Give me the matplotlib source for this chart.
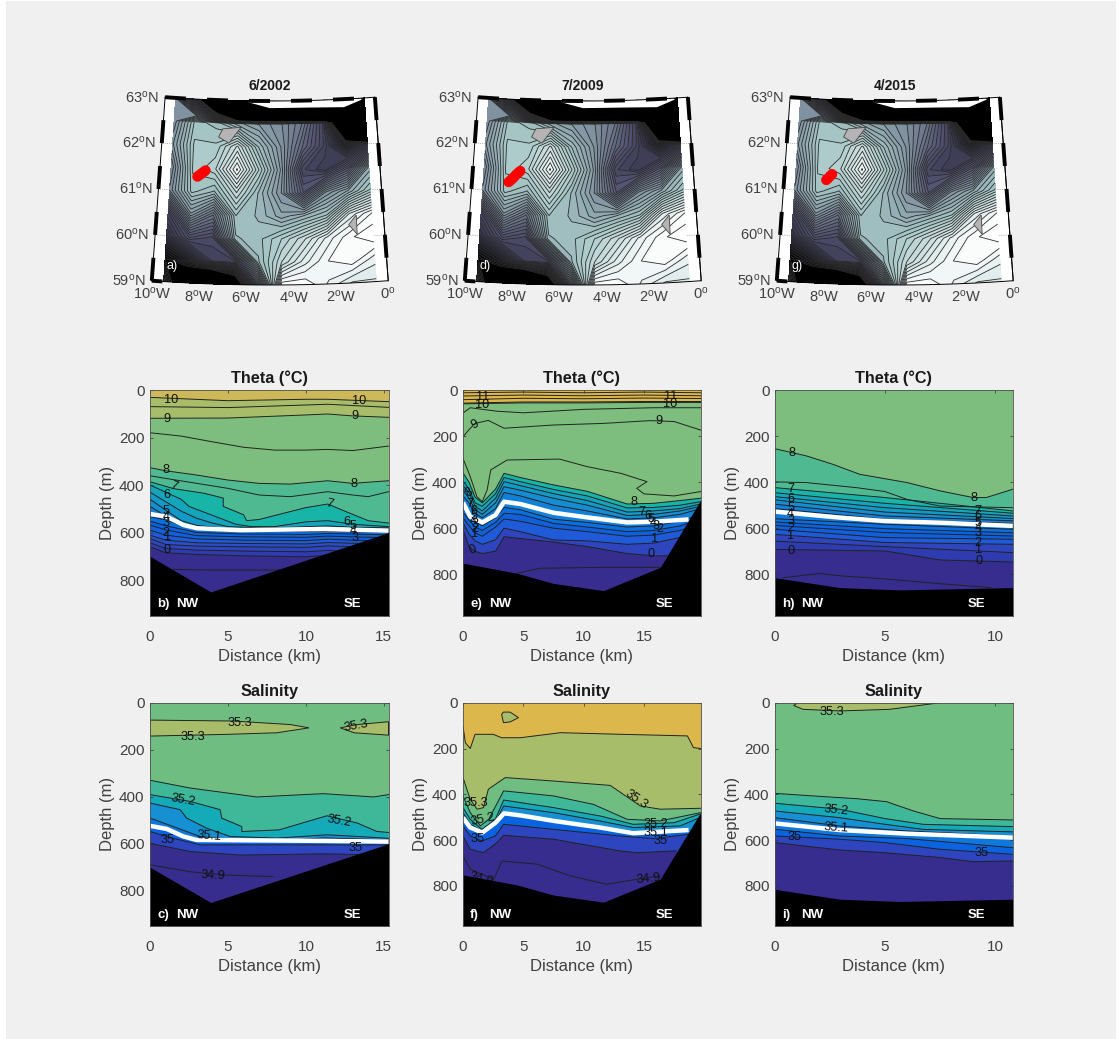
import numpy as np
import matplotlib
matplotlib.use('Agg')
import matplotlib.pyplot as plt
from matplotlib.patches import Rectangle

plt.rcParams['font.family'] = ['Liberation Sans', 'DejaVu Sans']
plt.rcParams['mathtext.fontset'] = 'custom'
plt.rcParams['mathtext.rm'] = 'Liberation Sans'
plt.rcParams['mathtext.default'] = 'regular'

W, H = 1117, 1039
GREY = '#404040'

# ---- map data (relative bathymetry on the coarse grid, black below 0)
grid_lon = [-9.5, -8.5, -7.5, -6.5, -5.5, -4.5, -3.5, -2.5, -1.5, -0.5]
grid_lat = [59, 59.5, 60, 60.5, 61, 61.5, 62, 62.5, 63]
bathy = [
    [0.15, -0.3, -0.5, -0.2, 0.45, 1.02, 1.02, 0.97, 0.92, 0.92],
    [0.00, 0.12, 0.30, 0.32, 0.72, 0.85, 0.94, 1.00, 1.02, 0.96],
    [0.22, 0.38, 0.34, 0.72, 0.74, 0.80, 0.87, 0.96, 1.02, 1.05],
    [0.32, 0.62, 0.50, 0.75, 0.72, 0.66, 0.70, 0.75, 0.93, 1.00],
    [0.58, 0.76, 0.72, 0.85, 0.72, 0.60, 0.40, 0.60, 0.68, 0.78],
    [0.55, 0.78, 0.82, 0.98, 0.80, 0.62, 0.33, 0.28, 0.42, 0.68],
    [0.62, 0.78, 0.78, 0.88, 0.72, 0.60, 0.45, 0.32, 0.12, 0.25],
    [0.58, 0.76, 0.74, 0.66, 0.62, 0.58, 0.50, 0.32, -0.5, -3.0],
    [0.58, 0.15, -1.0, -5.0, -5.0, -5.0, -5.0, -5.0, -5.0, -5.0],
]
faroe_lon = [-7.39, -7.2, -6.36, -6.9]
faroe_lat = [62.2, 62.38, 62.42, 62.07]
shetland_lon = [-1.2, -1.55, -1.2]
shetland_lat = [60.47, 60.27, 60.05]
shoal_lon = [-6, -5, -3, -0.65, -1.5, -3, -5]
shoal_lat = [62.98, 63, 63, 62.98, 62.84, 62.86, 62.86]

map_titles = ['6/2002', '7/2009', '4/2015']
map_letters = ['a)', 'd)', 'g)']
section_lon = [[-8.28, -8.15, -8.05, -7.93], [-8.35, -8.18, -8.02, -7.85], [-8.10, -8.02, -7.93, -7.85]]
section_lat = [[61.32, 61.37, 61.41, 61.46], [61.20, 61.28, 61.37, 61.45], [61.25, 61.29, 61.34, 61.38]]
lat_ticks = [63, 62, 61, 60, 59]
lon_ticks = [-10, -8, -6, -4, -2, 0]

# ---- section limits
xmax_b, xmax_e, xmax_h = 15.3, 19.7, 10.8
y_ticks = [0, 200, 400, 600, 800]

# seabed
bed_b_x = [0, 3.9, 15.3]
bed_b = [700, 850, 600]
bed_e_x = [0, 4.5, 7.5, 11.65, 16.35, 19.7]
bed_e = [752, 796, 840, 871, 770, 478]
bed_h_x = [0, 2.94, 5.67, 10.8]
bed_h = [815, 858, 868, 858]

# white isoline
white_b_x = [0, 1.07, 2.14, 3, 5.8, 11.2, 15.3]
white_b = [522, 533, 568, 582, 590, 585, 592]
white_e_x = [0, 0.6, 1.6, 2.7, 3.4, 4.75, 7.5, 10.3, 13.6, 15.8, 18.7]
white_e = [489, 550, 575, 543, 485, 495, 533, 553, 575, 572, 562]
white_h_x = [0, 2.94, 5, 7.5, 10.8]
white_h = [528, 554, 569, 576, 590]
white_c_x = [0, 1.07, 2.14, 3, 11.2, 15.3]
white_c = [524, 537, 569, 584, 588, 591]
white_f_x = [0, 0.6, 1.6, 2.7, 3.4, 4.75, 7.5, 11.35, 14.1, 18.7]
white_f = [502, 545, 567, 524, 483, 492, 516, 545, 570, 556]
white_i_x = [0, 2.94, 6, 10.8]
white_i = [527, 556, 572, 589]

# ---- theta contours: (level, x, depth)
bx_low = [0, 1, 3, 6, 10, 11.4, 13, 15.3]
theta_b = [
    (10, [0, 5, 10, 11.4, 15.3], [31, 45, 39, 39, 49]),
    (9.5, [0, 5, 11.4, 15.3], [70, 74, 60, 73]),
    (9, [0, 5, 10, 11.4, 13, 15.3], [119, 118, 105, 101, 109, 115]),
    (8.5, [0, 2, 4, 6, 8, 10, 11.4, 13, 15.3], [180, 194, 218, 241, 253, 253, 250, 255, 236]),
    (8, [0, 1, 3, 5, 7, 9, 11.4, 13, 15.3], [327, 340, 358, 379, 393, 396, 382, 393, 382]),
    (7.5, [0, 1, 3, 5, 7, 9, 11.4, 13, 14, 15.3], [361, 372, 393, 414, 442, 449, 428, 442, 449, 428]),
    (7, [0, 1.5, 3.5, 4.7, 4.7, 6, 6.2, 7, 8.5, 10, 11.4, 12.5, 14, 15.3],
     [386, 415, 435, 455, 490, 525, 550, 545, 520, 495, 480, 510, 550, 560]),
    (6.5, [0, 1, 2, 2.5, 3.5, 4.5, 5.5, 6.5, 8, 10, 11.4, 13, 15.3],
     [400, 430, 460, 490, 515, 540, 565, 575, 575, 555, 550, 565, 575]),
    (6, [0, 1, 2, 3, 4, 5, 7, 9, 11.4, 13, 15.3], [430, 470, 510, 540, 560, 575, 580, 578, 572, 578, 580]),
    (5.5, [0, 1, 2, 3, 5, 8, 11.4, 15.3], [460, 505, 550, 570, 583, 585, 582, 585]),
    (5, [0, 1, 2, 3, 5, 8, 11.4, 15.3], [490, 530, 565, 580, 590, 592, 588, 590]),
    (4, bx_low, [533, 547, 590, 594, 596, 594, 597, 600]),
    (3.5, bx_low, [552, 571, 600, 606, 608, 604, 606, 610]),
    (3, bx_low, [568, 589, 613, 618, 620, 615, 618, 622]),
    (2, bx_low, [590, 611, 627, 632, 634, 628, 632, 636]),
    (1.5, bx_low, [611, 632, 643, 646, 648, 642, 645, 650]),
    (1, bx_low, [625, 650, 657, 660, 662, 656, 660, 665]),
    (0.5, bx_low, [643, 667, 674, 678, 681, 675, 680, 685]),
    (0, bx_low, [660, 685, 692, 698, 702, 695, 700, 705]),
    (-0.5, [1.5, 4, 9], [755, 758, 758]),
]
ex = [0, 0.5, 1, 1.6, 2.7, 3.4, 4.75, 7.5, 10.3, 13.6, 15.8, 18, 19.7]
theta_e = [
    (11.5, [0, 5, 10, 15, 19.7], [12, 9, 12, 9, 12]),
    (11, [0, 5, 10, 15, 19.7], [26, 22, 25, 22, 25]),
    (10.5, [0, 5, 10, 15, 19.7], [42, 36, 38, 35, 37]),
    (10, [0, 5, 10, 15, 19.7], [57, 52, 52, 50, 50]),
    (9, [0, 5, 10, 15, 19.7], [60, 56, 56, 54, 54]),
    (8.9, [0, 0.6, 2.8, 5, 10, 15.8, 19.7], [100, 77, 92, 99, 84, 77, 77]),
    (8.9, [0.05, 0.5, 1, 2.1, 3.4, 7.5, 11.65, 15.5, 17.5, 19.7],
     [200, 172, 145, 132, 166, 152, 145, 133, 137, 174]),
    (8.5, [0, 0.6, 1.15, 1.6, 2, 2.3, 3.65, 8, 10.3, 13.1, 15.25, 14.4, 15, 17.5, 19.7],
     [297, 376, 463, 485, 434, 347, 304, 300, 333, 362, 398, 427, 451, 460, 441]),
    (7, ex, [360, 400, 465, 490, 430, 362, 380, 412, 440, 495, 492, 480, 470]),
    (6.5, ex, [395, 430, 490, 505, 450, 380, 398, 432, 460, 512, 510, 500, 485]),
    (6, ex, [415, 445, 505, 525, 470, 398, 415, 450, 480, 530, 525, 515, 495]),
    (5.5, ex, [435, 470, 520, 540, 490, 420, 435, 470, 500, 545, 540, 525, 505]),
    (5, ex, [460, 490, 535, 555, 515, 445, 460, 500, 525, 560, 555, 540, 515]),
    (4, ex, [500, 540, 570, 590, 555, 510, 520, 561, 575, 595, 590, 570, 540]),
    (3, ex, [530, 565, 595, 610, 575, 535, 540, 579, 595, 615, 610, 590, 560]),
    (2, ex, [555, 590, 620, 635, 595, 560, 570, 600, 615, 635, 630, 610, 580]),
    (1, ex, [575, 625, 655, 670, 650, 600, 615, 651, 655, 670, 665, 640, 600]),
    (0, ex, [605, 680, 700, 710, 700, 637, 645, 660, 680, 710, 720, 720, 700]),
    (-0.5, [4.5, 6.4, 11.65, 16.35], [795, 774, 770, 770]),
]
hx = [0, 5, 10.8]
theta_h = [
    (8, [0, 1.42, 2.64, 3.85, 6, 7.5, 9, 9.6, 10.8], [255, 286, 323, 366, 402, 438, 467, 467, 431]),
    (7.5, [0, 1.42, 3.7, 5, 6, 7.5, 10.8], [399, 402, 424, 441, 475, 504, 511]),
    (7, hx, [424, 467, 525]),
    (6.5, hx, [446, 492, 535]),
    (6, hx, [463, 511, 547]),
    (5.5, hx, [477, 530, 558]),
    (5, hx, [496, 547, 568]),
    (4.5, hx, [515, 561, 579]),
    (4, hx, [559, 583, 605]),
    (3.5, hx, [573, 602, 620]),
    (3, hx, [588, 619, 634]),
    (2, hx, [605, 641, 648]),
    (1, hx, [627, 662, 670]),
    (0.5, hx, [656, 680, 706]),
    (0, [0, 5, 7.5, 10.8], [692, 699, 738, 747]),
    (-0.5, [0.36, 2, 3, 5.2, 7.5, 9.8], [815, 797, 807, 822, 841, 858]),
]

# ---- salinity contours
lens_c1_x = [0, 5.35, 9, 10.2, 8.14, 4.71, 0]
lens_c1 = [74, 78, 93, 107, 128, 135, 142]
lens_c2_x = [15.3, 13.3, 12.2, 13.1, 15.3]
lens_c2 = [81, 93, 107, 128, 138]
salt_c = [
    (35.25, [0, 2.57, 6.85, 11.1, 14.35, 15.3], [330, 363, 401, 387, 401, 391]),
    (35.2, [0, 2.57, 4.5, 4.6, 5.89, 5.89, 8.28, 11.35, 13.3, 14.56, 15.3],
     [391, 420, 455, 491, 527, 548, 541, 481, 512, 548, 552]),
    (35.15, [0, 1.93, 2.35, 3.64, 5.14, 8.14, 11.35, 13.3, 15.3], [427, 455, 491, 534, 569, 576, 562, 569, 577]),
    (35.1, [0, 1.5, 3.2, 5.14, 8.99, 11.14, 15.3], [491, 527, 569, 581, 584, 575, 584]),
    (35.05, white_c_x, white_c),
    (35, [0, 1.5, 3.2, 11.14, 15.3], [548, 577, 605, 605, 605]),
    (34.95, [0, 2.57, 5.78, 11.14, 15.3], [598, 633, 648, 643, 648]),
    (34.9, [0, 2.57, 4.71, 7.9], [690, 719, 733, 740]),
]
lens_f_x = [3.2, 3.35, 3.9, 4.6, 3.9, 3.35]
lens_f = [51, 41, 41, 65, 84, 87]
salt_f = [
    (35.35, [0, 0.2, 0.6, 1.0, 2.5, 3.2, 4.75, 8.07, 13.1, 18.6, 19.1, 19.7],
     [102, 175, 200, 138, 138, 153, 153, 131, 138, 145, 196, 200]),
    (35.3, [0, 0.6, 1.17, 1.7, 2.1, 3.5, 7.5, 12.2, 14.7, 16.35, 19.7],
     [327, 422, 465, 458, 378, 327, 342, 361, 451, 465, 461]),
    (35.25, [0, 0.6, 1.44, 2.13, 3.37, 7.5, 10.8, 13.6, 16.35, 19.7],
     [407, 480, 538, 509, 385, 407, 444, 509, 516, 480]),
    (35.2, [0, 0.6, 1.57, 2.68, 3.37, 7.5, 11.4, 14.1, 17.5, 19.6],
     [458, 509, 553, 509, 425, 458, 495, 531, 524, 487]),
    (35.15, [0, 0.6, 1.6, 2.7, 3.37, 7.5, 11.4, 14.1, 18, 19.7],
     [480, 530, 560, 520, 451, 480, 517, 545, 538, 500]),
    (35.05, white_f_x, white_f),
    (35, [0, 0.6, 1.57, 2.68, 3.37, 7.5, 13, 15.8, 18.7], [538, 582, 604, 582, 531, 553, 582, 593, 575]),
    (34.95, [0, 0.6, 1.7, 2.8, 3.37, 7.5, 13, 14.4, 17.7], [582, 640, 655, 611, 579, 596, 647, 655, 647]),
    (34.9, [0, 0.6, 2.54, 3.23, 6.14, 8.9, 11.9, 14.4, 16.35], [669, 727, 771, 691, 705, 756, 793, 771, 756]),
]
lens_i_x = [1.04, 0.85, 1.27, 2.94, 5.2, 7.5]
lens_i = [0, 12, 29, 36, 29, 0]
salt_i = [
    (35.25, [0, 2.2, 3.7, 5.06, 6.3, 7.5, 10.8], [396, 410, 419, 432, 473, 506, 512]),
    (35.2, [0, 2.94, 5, 6.73, 10.8], [439, 465, 506, 531, 541]),
    (35.15, [0, 2.94, 5, 6.73, 10.8], [473, 502, 531, 553, 564]),
    (35.1, [0, 2.94, 5.97, 10.8], [502, 538, 560, 582]),
    (35.05, [0, 2.94, 5.97, 10.8], [553, 582, 593, 633]),
    (35, [0, 2.94, 5, 7.5, 10.8], [582, 596, 611, 640, 662]),
    (34.95, [0, 2.94, 5, 7.5, 9, 10.8], [611, 643, 655, 676, 694, 691]),
]

# ---- inline labels: (text, x, depth, rotation)
labels_b = [('10', 1.33, 42, 0), ('10', 13.4, 48, 0), ('9', 1.07, 121, 0), ('9', 13.15, 109, 0),
            ('8', 1.05, 337, 0), ('8', 13.08, 396, 0), ('7', 1.5, 404, -20), ('7', 11.5, 481, -15),
            ('6', 1.11, 442, 0), ('6', 12.63, 554, 0), ('5', 1.05, 508, 0), ('4', 1.03, 536, 0),
            ('3', 1.03, 561, 0), ('2', 1.03, 603, 0), ('1', 1.11, 620, 0), ('0', 1.07, 674, 0),
            ('5', 13.02, 571, 0), ('4', 13.06, 592, 0), ('3', 13.13, 625, 0)]
labels_e = [('11', 1.63, 29, 0), ('11', 17.2, 26, 0), ('10', 1.57, 65, 0), ('10', 17.2, 62, 0),
            ('9', 1.02, 152, 30), ('9', 16.2, 135, 0), ('8', 0.47, 446, 30), ('8', 14.2, 485, 0),
            ('7', 14.83, 530, 0), ('6', 15.33, 547, 0), ('5', 15.58, 561, 0), ('4', 15.8, 576, 0),
            ('3', 15.99, 590, 0), ('2', 16.3, 605, 0), ('1', 15.9, 648, 0), ('0', 15.58, 713, 0),
            ('7', 0.61, 496, 0), ('6', 0.88, 525, 0), ('5', 0.88, 547, 0), ('4', 0.88, 569, 0),
            ('3', 1.02, 583, 0), ('2', 1.02, 605, 0), ('1', 0.97, 627, 0), ('0', 0.8, 695, 20)]
labels_h = [('8', 0.79, 272, 0), ('8', 9.03, 470, 0), ('7', 0.71, 428, 0), ('6', 0.71, 472, 0),
            ('5', 0.71, 511, 0), ('4', 0.71, 540, 0), ('3', 0.71, 569, 0), ('2', 0.71, 598, 0),
            ('1', 0.71, 634, 0), ('0', 0.74, 699, 0), ('7', 9.2, 525, 0), ('6', 9.24, 547, 0),
            ('5', 9.24, 576, 0), ('4', 9.24, 598, 0), ('3', 9.24, 619, 0), ('2', 9.24, 663, 0),
            ('1', 9.24, 695, 0), ('0', 9.26, 742, 0)]
labels_c = [('35.3', 5.74, 85, 0), ('35.3', 2.74, 145, 0), ('35.3', 13.2, 100, 10), ('35.2', 2.14, 416, -10),
            ('35.2', 12.16, 505, -10), ('35.1', 3.81, 569, -5), ('35', 1.11, 584, 0), ('35', 13.2, 619, 0),
            ('34.9', 4.03, 736, -3)]
labels_f = [('35.3', 1.1, 439, 0), ('35.3', 14.4, 422, -35), ('35.2', 1.66, 509, 12), ('35.2', 16, 528, 0),
            ('35.1', 16, 567, 0), ('35', 1.24, 596, 0), ('35', 16.4, 604, 0), ('34.9', 1.5, 771, -15),
            ('34.9', 15.4, 771, 5)]
labels_i = [('35.3', 2.6, 39, 0), ('35.2', 2.79, 470, -6), ('35.1', 2.76, 545, -4), ('35', 0.89, 585, 0),
            ('35', 9.39, 655, 0)]

# band colour below each contour
theta_levels = [11.5, 11, 10.5, 10, 9.5, 9, 8.9, 8.5, 8, 7.5, 7, 6.5, 6, 5.5, 5, 4.5, 4, 3.5, 3, 2, 1.5, 1, 0.5, 0, -0.5]
theta_colors = ['#dcb84c', '#dcb84c', '#dcb84c', '#a8bd6a', '#a8bd6a', '#7dbd7d', '#7dbd7d', '#7dbd7d', '#4fba91',
                '#4fba91', '#18b4a8', '#14a5bb', '#129ac6', '#158dd0', '#1380d8', '#127ada', '#0a70e2', '#0a63e0',
                '#1060dc', '#1f5bd8', '#2a50c8', '#2f45bd', '#2f3cb0', '#362d8e', '#362d8e']
salt_levels = [35.35, 35.3, 35.25, 35.2, 35.15, 35.1, 35.05, 35, 34.95, 34.9]
salt_colors = ['#a8bd6a', '#6fbd80', '#3fb89a', '#14aab8', '#1690d2', '#0f78dc', '#0a63e0', '#2d46bf', '#362d8e', '#362d8e']
theta_fill = dict(zip(theta_levels, theta_colors))
salt_fill = dict(zip(salt_levels, salt_colors))
lens_fill = '#a8bd6a'


def box(left, top, right, bottom):
    return [left / W, 1 - bottom / H, (right - left) / W, (bottom - top) / H]


# conic projection, result is in figure pixels of the first column
def project(lon, lat):
    lon = np.asarray(lon, dtype=float)
    lat = np.asarray(lat, dtype=float)
    r = 1632 - (lat - 59) * 46
    th = (lon + 5) * 0.0145
    return 270 + r * np.sin(th), -1347 + r * np.cos(th)


def draw_map(i, shift):
    ax = fig.add_axes(box(110 + shift, 85, 410 + shift, 310))
    ax.set_xlim(110, 410)
    ax.set_ylim(310, 85)
    ax.axis('off')

    lon_s = np.linspace(-10, 0, 41)
    lat_s = np.linspace(59, 63, 17)
    fx, fy = project(np.r_[lon_s, lon_s[::-1]], np.r_[59 * np.ones(41), 63 * np.ones(41)])
    ax.fill(fx, fy, color='white', zorder=0)

    # dotted graticule
    for la in [60, 61, 62]:
        gx, gy = project(lon_s, la * np.ones(41))
        ax.plot(gx, gy, color='#777777', lw=0.5, ls=':', zorder=0.5)
    for lo in [-8, -6, -4, -2]:
        gx, gy = project(lo * np.ones(17), lat_s)
        ax.plot(gx, gy, color='#777777', lw=0.5, ls=':', zorder=0.5)

    LON, LAT = np.meshgrid(grid_lon, grid_lat)
    X, Y = project(LON, LAT)
    levels = np.arange(0, 1.1, 0.025)
    cmap = plt.get_cmap('bone').copy()
    cmap.set_under('black')
    ax.contourf(X, Y, bathy, levels=levels, cmap=cmap, vmin=0, vmax=1.03, extend='both', zorder=1)
    ax.contour(X, Y, bathy, levels=levels, colors='#2a2a2a', linewidths=0.6, zorder=2)

    # grey islands and the white shoal at the top
    px, py = project(faroe_lon, faroe_lat)
    ax.fill(px, py, facecolor='#b4b4b4', edgecolor='#444444', lw=0.6, zorder=3)
    px, py = project(shetland_lon, shetland_lat)
    ax.fill(px, py, facecolor='#b4b4b4', edgecolor='#444444', lw=0.6, zorder=3)
    px, py = project(shoal_lon, shoal_lat)
    ax.fill(px, py, color='white', zorder=3)

    # black and white frame
    ax.plot(fx, fy, color='black', lw=0.7, zorder=4)
    ex0, ey0 = project(-10 * np.ones(17), lat_s)
    ax.plot([ex0[0], ex0[-1]], [ey0[0], ey0[-1]], color='black', lw=0.7, zorder=4)
    ex1, ey1 = project(0 * np.ones(17), lat_s)
    ax.plot([ex1[0], ex1[-1]], [ey1[0], ey1[-1]], color='black', lw=0.7, zorder=4)
    for la in [59, 60, 61, 62]:
        sx, sy = project([-10, -10], [la, la + 0.5])
        ax.plot(sx, sy, color='black', lw=2.8, solid_capstyle='butt', zorder=5)
    for la in [59.5, 60.5, 61.5, 62.5]:
        sx, sy = project([0, 0], [la, la + 0.5])
        ax.plot(sx, sy, color='black', lw=2.8, solid_capstyle='butt', zorder=5)
    for lo in [-10, -8, -6, -4, -2]:
        sx, sy = project(np.linspace(lo, lo + 1, 5), 63 * np.ones(5))
        ax.plot(sx, sy, color='black', lw=2.8, solid_capstyle='butt', zorder=5)
    sx, sy = project(np.linspace(-10, -9.55, 3), 59 * np.ones(3))
    ax.plot(sx, sy, color='black', lw=2.8, solid_capstyle='butt', zorder=5)

    # hydrographic section
    px, py = project(section_lon[i], section_lat[i])
    ax.plot(px, py, color='red', lw=7.5, solid_capstyle='round', zorder=6)

    # tick labels
    for la in lat_ticks:
        tx, ty = project(-10, la)
        ax.text(tx - 6, ty, str(la) + '$^{o}$N', ha='right', va='center', fontsize=10.5, color=GREY, clip_on=False)
    for lo in lon_ticks:
        tx, ty = project(lo, 59)
        txt = str(abs(lo)) + '$^{o}$W' if lo != 0 else '0$^{o}$'
        ax.text(tx, ty + 13, txt, ha='center', va='center', fontsize=10.5, color=GREY, clip_on=False)
    ax.text(172, 266, map_letters[i], color='white', fontsize=9, ha='center', va='center', zorder=6)
    ax.text(269.5, 86, map_titles[i], fontsize=10, fontweight='bold', color='#1a1a1a', ha='center', va='center')


def draw_section(pos, xmax, ymax, fill, bg, contours, lenses, white_x, white_y, bed_x, bed_y, labels, letter, title):
    ax = fig.add_axes(box(*pos))
    ax.set_facecolor(bg)
    ax.set_xlim(0, xmax)
    ax.set_ylim(ymax, 0)
    for lx, ly in lenses:
        ax.fill(lx, ly, facecolor=lens_fill, edgecolor='#222222', lw=0.7, zorder=3.5)
    for level, x, d in contours:
        # painter's order: each band covers everything below its contour
        ax.fill(list(x) + [xmax, 0, 0], list(d) + [ymax, ymax, d[0]],
                color=fill[level], lw=0, zorder=1)
    # lines on top of all the bands
    for level, x, d in contours:
        ax.plot(x, d, color='#222222', lw=0.7, zorder=2)
    ax.plot(white_x, white_y, color='white', lw=3.2, solid_capstyle='butt', zorder=3)
    ax.fill_between(bed_x, bed_y, ymax, color='black', lw=0, zorder=5)
    for txt, lx, ly, rot in labels:
        ax.text(lx, ly, txt, fontsize=9.2, rotation=rot, ha='center', va='center', color='#111111',
                clip_on=True, zorder=4)
    ax.text(0.03, 0.05, letter, transform=ax.transAxes, color='white', fontsize=9.5, fontweight='bold',
            va='center', zorder=6)
    ax.text(0.11, 0.05, 'NW', transform=ax.transAxes, color='white', fontsize=9.5, fontweight='bold',
            va='center', zorder=6)
    ax.text(0.812, 0.05, 'SE', transform=ax.transAxes, color='white', fontsize=9.5, fontweight='bold',
            va='center', zorder=6)
    ax.set_yticks(y_ticks)
    ax.set_xticks([t for t in [0, 5, 10, 15] if t <= xmax])
    ax.tick_params(direction='in', length=2.5, width=0.5, color='#303030', labelcolor=GREY,
                   labelsize=11, top=True, right=True, pad=4)
    ax.tick_params(axis='x', pad=10)
    ax.set_axisbelow(False)
    for s in ax.spines.values():
        s.set_color('#505050')
        s.set_linewidth(0.6)
        s.set_zorder(7)
    ax.set_xlabel('Distance (km)', fontsize=12, color=GREY, labelpad=4)
    ax.set_ylabel('Depth (m)', fontsize=12, color=GREY, labelpad=3)
    ax.set_title(title, fontsize=11.7, fontweight='bold', color='#1a1a1a', pad=5)
    return ax


fig = plt.figure(figsize=(W / 100, H / 100), dpi=100, facecolor='white')
fig.patches.append(Rectangle((6 / W, 0), (W - 7) / W, (H - 1) / H, transform=fig.transFigure,
                             facecolor='#f0f0f0', edgecolor='none', zorder=-1))

draw_map(0, 0)
draw_map(1, 313)
draw_map(2, 625)

theta_title = 'Theta (°C)'
draw_section((150, 390, 388.5, 615.7), xmax_b, 950, theta_fill, '#cdb95a', theta_b, [],
             white_b_x, white_b, bed_b_x, bed_b, labels_b, 'b)', theta_title)
draw_section((463, 390, 700.7, 615.7), xmax_e, 980, theta_fill, '#dcb84c', theta_e, [],
             white_e_x, white_e, bed_e_x, bed_e, labels_e, 'e)', theta_title)
draw_section((775, 390, 1012.7, 615.7), xmax_h, 980, theta_fill, '#7dbd7d', theta_h, [],
             white_h_x, white_h, bed_h_x, bed_h, labels_h, 'h)', theta_title)

draw_section((150, 702.7, 388.5, 926), xmax_b, 950, salt_fill, '#6fbd80', salt_c,
             [(lens_c1_x, lens_c1), (lens_c2_x, lens_c2)],
             white_c_x, white_c, bed_b_x, bed_b, labels_c, 'c)', 'Salinity')
draw_section((463, 702.7, 700.7, 926), xmax_e, 975, salt_fill, '#dcb84c', salt_f, [(lens_f_x, lens_f)],
             white_f_x, white_f, bed_e_x, bed_e, labels_f, 'f)', 'Salinity')
draw_section((775, 702.7, 1012.7, 926), xmax_h, 975, salt_fill, '#6fbd80', salt_i, [(lens_i_x, lens_i)],
             white_i_x, white_i, bed_h_x, bed_h, labels_i, 'i)', 'Salinity')

fig.savefig('out.png', dpi=100, facecolor=fig.get_facecolor())
